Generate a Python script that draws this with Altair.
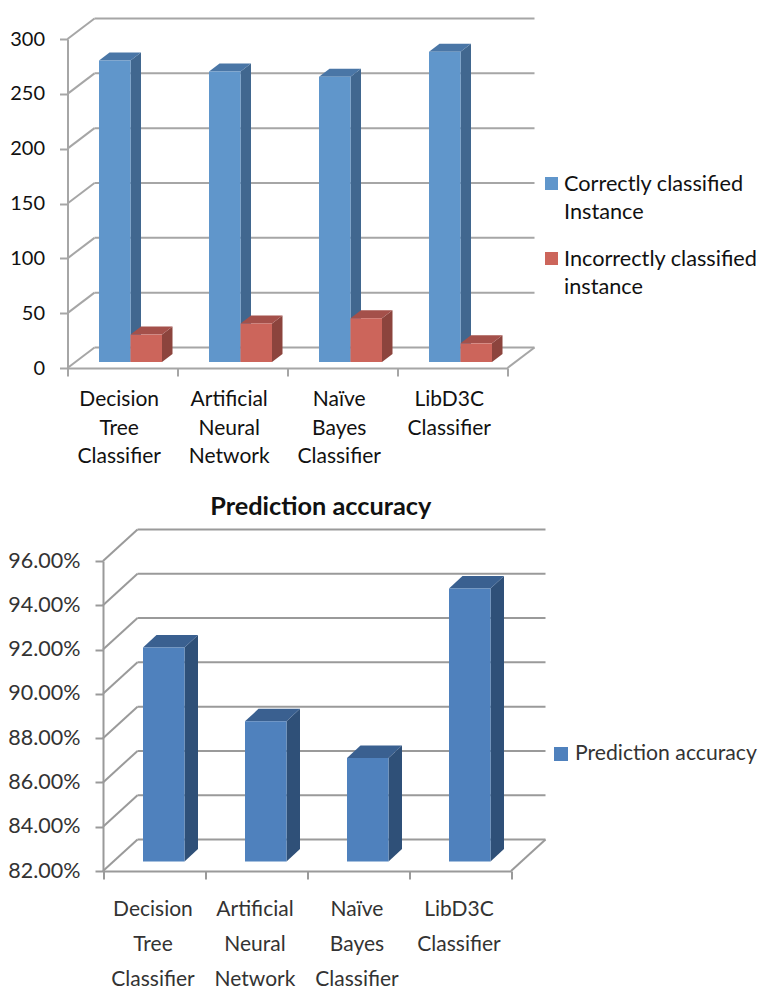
import altair as alt
import pandas as pd

# Shared categories
categories = ["Decision|Tree|Classifier", "Artificial|Neural|Network", "Naïve|Bayes|Classifier", "LibD3C|Classifier"]

# Classified instance counts
correct_counts = [275, 265, 260, 283]
incorrect_counts = [25, 35, 40, 17]
count_ticks = [0, 50, 100, 150, 200, 250, 300]
count_series = ["Correctly classified|Instance", "Incorrectly classified|instance"]

# Prediction accuracy per classifier
accuracy_values = [0.9167, 0.8833, 0.8667, 0.9433]
accuracy_ticks = [0.82, 0.84, 0.86, 0.88, 0.90, 0.92, 0.94, 0.96]
accuracy_series = ["Prediction accuracy"]


def panel(series_values, series_names, faces, ticks, y_domain, width, height, fmt,
          wall, bar, text, legend, grid="#a6a6a6", inset=0, title=None):
    """Pseudo-3D clustered column chart built from layered marks on shared scales.

    inset moves the value axis and the category range right inside the view,
    so panels in one column can keep differently sized label gutters.
    """
    cat_px = width / len(categories)
    unit = (y_domain[1] - y_domain[0]) / height  # data units per pixel
    wdx, wdy = wall[0] / cat_px, wall[1] * unit
    bdx, bdy = bar["depth"][0] / cat_px, bar["depth"][1] * unit
    base = bar["lift"] * unit
    y0 = y_domain[0]

    xs = alt.Scale(domain=[0, len(categories)], range=[inset, inset + width], nice=False, zero=False)
    ys = alt.Scale(domain=y_domain, nice=False, zero=False)
    X = lambda f="x": alt.X(f"{f}:Q", scale=xs, title=None)
    Y = lambda f="y": alt.Y(f"{f}:Q", scale=ys, title=None)

    # Frame: back wall grid, left wall diagonals, floor
    frame = []
    for t in ticks:
        frame.append(dict(x=wdx, x2=len(categories) + wdx, y=t + wdy, y2=t + wdy))
        frame.append(dict(x=0, x2=wdx, y=t, y2=t + wdy))
    frame.append(dict(x=len(categories), x2=len(categories) + wdx, y=y0, y2=y0 + wdy))
    frame_layer = alt.Chart(pd.DataFrame(frame)).mark_rule(
        color=grid, strokeWidth=2
    ).encode(
        alt.X("x:Q", scale=xs, title=None, axis=alt.Axis(
            values=list(range(len(categories) + 1)), labels=False, grid=False,
            domainColor=grid, domainWidth=2, tickColor=grid, tickWidth=2, tickSize=8)),
        alt.X2("x2:Q"),
        alt.Y("y:Q", scale=ys, title=None, axis=alt.Axis(
            values=ticks, format=fmt, grid=False, domainColor=grid, domainWidth=2, offset=-inset,
            tickColor=grid, tickWidth=2, tickSize=8, labelFont=text["font"],
            labelFontSize=text["tick"], labelColor=text["color"], labelPadding=text["pad"])),
        alt.Y2("y2:Q"),
    )

    layers = [frame_layer]

    # Columns are painted series by series so each one overlaps the previous one's side face
    for s, (values, face) in enumerate(zip(series_values, faces)):
        left = [i + (bar["gap"] + s * bar["width"]) / cat_px for i in range(len(values))]
        right = [l + bar["width"] / cat_px for l in left]

        side, top = [], []
        for i, v in enumerate(values):
            side.append(dict(k=i, x=right[i], y=v + base, y2=y0 + base))
            side.append(dict(k=i, x=right[i] + bdx, y=v + base + bdy, y2=y0 + base + bdy))
            top.append(dict(k=i, y=v + base, x=left[i], x2=right[i]))
            top.append(dict(k=i, y=v + base + bdy, x=left[i] + bdx, x2=right[i] + bdx))

        layers.append(alt.Chart(pd.DataFrame(side)).mark_area(color=face["side"]).encode(
            X(), Y(), alt.Y2("y2:Q"), detail="k:N"))
        layers.append(alt.Chart(pd.DataFrame(top)).mark_area(color=face["top"], orient="horizontal").encode(
            Y(), X(), alt.X2("x2:Q"), detail="k:N"))
        front = pd.DataFrame(dict(x=left, x2=right, y=[v + base for v in values],
                                  y2=[y0 + base] * len(values)))
        layers.append(alt.Chart(front).mark_rect(color=face["front"]).encode(
            X(), alt.X2("x2:Q"), Y(), alt.Y2("y2:Q")))

    # Category labels under the axis
    labels = pd.DataFrame({"x": [i + text["cat_shift"] for i in range(len(categories))], "t": categories})
    layers.append(alt.Chart(labels).mark_text(
        lineBreak="|", baseline="top", align="center", font=text["font"],
        fontSize=text["cat"], lineHeight=text["cat_line"], color=text["color"]
    ).encode(X(), y=alt.value(height + text["cat_off"]), text="t:N"))

    # Legend keys and entries to the right of the plot
    key = pd.DataFrame([dict(px=legend["x"], px2=legend["x"] + legend["size"],
                             py=yy, py2=yy + legend["size"], c=f["front"])
                        for yy, f in zip(legend["y"], faces)])
    layers.append(alt.Chart(key).mark_rect().encode(
        x=alt.X("px:Q", scale=None, axis=None), x2="px2:Q",
        y=alt.Y("py:Q", scale=None, axis=None), y2="py2:Q",
        color=alt.Color("c:N", scale=None)))
    entries = pd.DataFrame([dict(px=legend["x"] + legend["text_dx"],
                                 py=yy + legend["size"] / 2 + legend["text_dy"], t=n)
                            for yy, n in zip(legend["y"], series_names)])
    layers.append(alt.Chart(entries).mark_text(
        lineBreak="|", align="left", baseline="top", dy=-legend["font_size"] * 0.6, font=text["font"],
        fontSize=legend["font_size"], lineHeight=legend["line"], color=text["color"]
    ).encode(x=alt.X("px:Q", scale=None, axis=None), y=alt.Y("py:Q", scale=None, axis=None), text="t:N"))

    props = dict(width=inset + width, height=height)
    if title:
        props["title"] = title
    return alt.layer(*layers).properties(**props)


top_chart = panel(
    [correct_counts, incorrect_counts], count_series,
    [dict(front="#6096cb", side="#41678f", top="#4a76a6"),
     dict(front="#cc655b", side="#8c443d", top="#a4504a")],
    count_ticks, [0, 300], 440, 329, "d",
    wall=(27, 20.5),
    bar=dict(gap=31.5, width=31.5, depth=(10.5, 8), lift=6),
    text=dict(font="Lato", tick=20, color="#111111", pad=15, cat=21, cat_line=28.5, cat_off=21, cat_shift=0.47),
    legend=dict(x=477.5, y=[138, 213], size=13, text_dx=19, text_dy=4, font_size=21.7, line=28),
)

bottom_chart = panel(
    [accuracy_values], accuracy_series,
    [dict(front="#4f81bd", side="#2f5078", top="#3a6090")],
    accuracy_ticks, [0.82, 0.96], 408, 310, ".2%",
    wall=(34.5, 31.5),
    bar=dict(gap=40, width=41.5, depth=(13.5, 12.5), lift=9.5),
    text=dict(font="Lato", tick=21.5, color="#333333", pad=15, cat=21, cat_line=35, cat_off=28, cat_shift=0.49),
    legend=dict(x=486.5, y=[186], size=14, text_dx=21, text_dy=2, font_size=21.2, line=30),
    grid="#9a9a9a",
    inset=35.5,
    title=alt.TitleParams("Prediction accuracy", font="Lato", fontSize=25.3,
                          fontWeight="bold", color="#111111", anchor="middle", dx=31.5, offset=8),
)

chart = alt.ConcatChart(concat=[top_chart, bottom_chart], columns=1, align="none", spacing=28).properties(
    padding={"left": 7.5, "top": 17, "right": 0, "bottom": 0}
).configure_view(stroke=None)

chart.save("out.html", embed_options={"renderer": "svg", "actions": False})
